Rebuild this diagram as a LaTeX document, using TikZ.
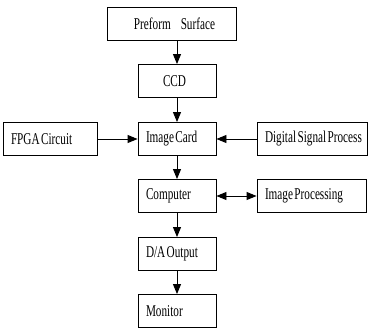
\documentclass[tikz,border=0pt]{standalone}
\usepackage{fontspec}
\setmainfont{Liberation Serif}[FakeStretch=0.68, WordSpace=0.5]
\usetikzlibrary{positioning, arrows.meta}

\begin{document}
\begin{tikzpicture}[x=1pt, y=-1pt, font=\fontsize{16.5}{18}\selectfont,
  block/.style={draw, line width=0.9pt, minimum height=33pt, inner xsep=2pt,
    align=flush left, execute at begin node={\hspace*{6pt}}},
  link/.style={-{Triangle[length=10pt, width=8pt]}, line width=0.9pt}]
  \useasboundingbox (0,0) rectangle (382,329);
  % main chain
  \node[block, text width=125pt, align=flush center, execute at begin node={}] (surf) at (171.5,23.5) {Preform\hspace{10pt}Surface};
  \node[block, text width=74pt, execute at begin node={\hspace*{17pt}}] (ccd) at (177,81) {CCD};
  \node[block, text width=74pt] (card) at (177,139) {Image Card};
  \node[block, text width=74pt] (comp) at (177,196) {Computer};
  \node[block, text width=74pt] (da) at (177,254) {D/A Output};
  \node[block, text width=74pt] (mon) at (177,311) {Monitor};
  % side blocks
  \node[block, text width=90pt] (fpga) at (50,139) {FPGA Circuit};
  \node[block, text width=106pt] (dsp) at (312,139) {Digital Signal Process};
  \node[block, text width=105pt] (improc) at (311.5,196) {Image Processing};
  % arrows
  \draw[link] (surf.south -| ccd.north) -- (ccd.north);
  \draw[link] (ccd) -- (card);
  \draw[link] (fpga) -- (card);
  \draw[link] (dsp) -- (card);
  \draw[link] (card) -- (comp);
  \draw[link, {Triangle[length=10pt, width=8pt]}-{Triangle[length=10pt, width=8pt]}] (comp) -- (improc);
  \draw[link] (comp) -- (da);
  \draw[link] (da) -- (mon);
\end{tikzpicture}
\end{document}
